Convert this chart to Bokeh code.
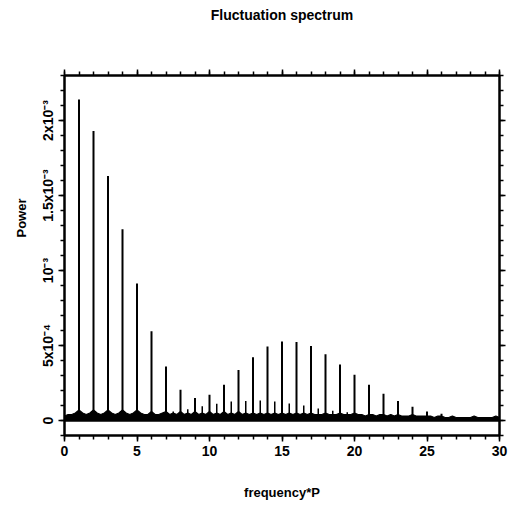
import numpy as np
from bokeh.plotting import figure
from bokeh.models import Range1d, FixedTicker, LinearAxis, Span, Title, CustomJSTickFormatter
from bokeh.embed import file_html
from bokeh.resources import INLINE

# ---- data ----
# main harmonic peaks (frequency*P, power in units of 1e-4)
harmonic_freq = [1, 2, 3, 4, 5, 6, 7, 8, 9, 10, 11, 12, 13, 14, 15, 16, 17, 18, 19, 20,
                 21, 22, 23, 24, 25, 26]
harmonic_power = [21.4, 19.3, 16.3, 12.75, 9.14, 5.95, 3.6, 2.05, 1.5, 1.72, 2.38, 3.36,
                  4.21, 4.93, 5.26, 5.23, 4.97, 4.41, 3.74, 3.05, 2.39, 1.78, 1.3, 0.92,
                  0.6, 0.45]
# secondary (half-integer) peaks, power in units of 1e-4
half_freq = [7.5, 8.5, 9.5, 10.5, 11.5, 12.5, 13.5, 14.5, 15.5, 16.5, 17.5, 18.5, 19.5]
half_power = [0.6, 0.75, 0.95, 1.12, 1.27, 1.30, 1.34, 1.27, 1.14, 1.0, 0.8, 0.65, 0.55]
# noise floor envelope, every 0.25 in frequency*P from 0 to 30, units of 1e-5
floor_power = [3, 4, 4, 5, 7, 5, 4, 5, 7, 5, 4, 5, 7, 5, 4, 5, 7, 5, 4, 5,
               7, 5, 4, 4, 6, 4, 4, 5, 6, 4, 5, 4, 6, 4, 5, 4, 6, 4, 5, 4,
               6, 4, 5, 4, 6, 4, 5, 4, 6, 4, 5, 4, 5, 4, 5, 4, 5, 4, 5, 4,
               5, 4, 5, 4, 5, 4, 5, 4, 5, 4, 4, 4, 5, 4, 4, 4, 5, 4, 4, 4,
               5, 4, 4, 3, 4, 4, 3, 4, 4, 3, 4, 3, 4, 3, 3, 3, 4, 3, 3, 3,
               3, 3, 2, 3, 3, 2, 2, 3, 2, 2, 2, 2, 2, 3, 2, 2, 2, 2, 2, 3, 2]
floor_freq = np.linspace(0, 30, len(floor_power))

x_major = [0, 5, 10, 15, 20, 25, 30]
x_minor = list(range(0, 31))
y_major = [0, 0.0005, 0.001, 0.0015, 0.002]
y_minor = [i * 1e-4 for i in range(-1, 24)]
y_labels = {0: "0", 0.0005: "5x10\u207b\u2074", 0.001: "10\u207b\u00b3",
            0.0015: "1.5x10\u207b\u00b3", 0.002: "2x10\u207b\u00b3"}

FONT = "Liberation Sans"

p = figure(width=515, height=513, output_backend="svg", toolbar_location=None,
           x_range=Range1d(0, 30), y_range=Range1d(-1e-4, 2.3e-3),
           min_border_left=64, min_border_right=16, min_border_top=75,
           min_border_bottom=78)

p.xgrid.grid_line_color = None
p.ygrid.grid_line_color = None
p.outline_line_color = "black"
p.outline_line_width = 2
p.background_fill_color = "white"
p.border_fill_color = "white"

xt = FixedTicker(ticks=x_major, minor_ticks=x_minor)
yt = FixedTicker(ticks=y_major, minor_ticks=y_minor)
blank = CustomJSTickFormatter(code="return ''")

def style(ax):
    ax.axis_line_width = 2
    ax.major_tick_line_width = 1.5
    ax.minor_tick_line_width = 1.5
    ax.major_tick_in = 0
    ax.minor_tick_in = 0
    ax.major_tick_out = 6
    ax.minor_tick_out = 4
    ax.major_label_text_font = FONT
    ax.major_label_text_font_style = "bold"
    ax.major_label_text_color = "black"
    ax.axis_label_text_font = FONT
    ax.axis_label_text_font_style = "bold"
    ax.axis_label_text_color = "black"

xa = p.xaxis[0]
xa.ticker = xt
style(xa)
xa.major_label_text_font_size = "14px"
xa.major_label_standoff = 4
xa.axis_label = "frequency*P"
xa.axis_label_text_font_size = "13px"
xa.axis_label_standoff = 26

ya = p.yaxis[0]
ya.ticker = yt
style(ya)
ya.major_label_overrides = y_labels
ya.major_label_orientation = "vertical"
ya.major_label_text_font_size = "14px"
ya.major_label_standoff = 3

# top axis carries the chart title as its label
top = LinearAxis(ticker=xt, formatter=blank, major_label_standoff=0)
style(top)
top.axis_label = "Fluctuation spectrum"
top.axis_label_text_font_size = "14px"
top.axis_label_standoff = 47
p.add_layout(top, "above")

right = LinearAxis(ticker=yt, formatter=blank, major_label_standoff=0)
style(right)
p.add_layout(right, "right")

p.add_layout(Title(text="Power", align="right", offset=123, standoff=16,
                   text_font=FONT, text_font_size="13px", text_font_style="bold",
                   text_color="black"),
             "left")

# noise floor band
floor_vals = [v * 1e-5 for v in floor_power]
p.varea(x=floor_freq, y1=[0] * len(floor_vals), y2=floor_vals, fill_color="black")
p.line(x=floor_freq, y=floor_vals, line_color="black", line_width=1.2)
p.add_layout(Span(location=0, dimension="width", line_color="black", line_width=2.5))

# peaks
hp = [v * 1e-4 for v in harmonic_power]
p.segment(x0=harmonic_freq, y0=[0] * len(hp), x1=harmonic_freq, y1=hp,
          line_color="black", line_width=2)
sp = [v * 1e-4 for v in half_power]
p.segment(x0=half_freq, y0=[0] * len(sp), x1=half_freq, y1=sp,
          line_color="black", line_width=1.5)

open("out.html", "w").write(file_html(p, INLINE))
